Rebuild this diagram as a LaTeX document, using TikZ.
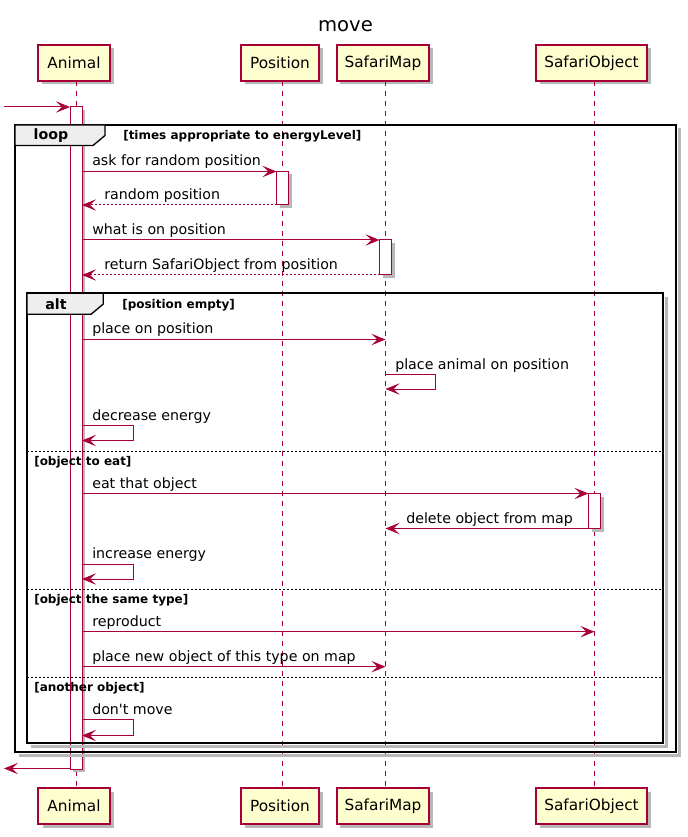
\documentclass[tikz,border=0pt]{standalone}
\usepackage{fontspec}
\setmainfont{DejaVu Sans}
\usetikzlibrary{arrows.meta}
\definecolor{umlred}{HTML}{A80036}
\definecolor{umlyel}{HTML}{FEFECE}
\definecolor{tabgray}{HTML}{EEEEEE}
\begin{document}
\begin{tikzpicture}[x=0.75pt,y=-0.75pt,
  part/.style={draw=umlred, fill=umlyel, line width=1.1pt, minimum height=27pt, inner sep=0pt,
    font=\fontsize{11.5pt}{13pt}\selectfont},
  pshadow/.style={fill=black!28},
  lifeline/.style={draw=umlred, line width=0.75pt, dash pattern=on 3.75pt off 3.75pt},
  actbox/.style={draw=umlred, fill=white, line width=0.75pt},
  msg/.style={draw=umlred, line width=0.75pt, -{Stealth[length=10.5pt,width=8.5pt,inset=4.5pt]}},
  reply/.style={msg, dash pattern=on 1.5pt off 1.5pt},
  frame/.style={draw=black, line width=1.7pt},
  fshadow/.style={draw=black!28, line width=2.2pt},
  tab/.style={draw=black, fill=tabgray, line width=1pt},
  sep/.style={draw=black, line width=0.75pt, dash pattern=on 1.5pt off 1.5pt},
  lbl/.style={anchor=base west, inner sep=0pt, font=\fontsize{10.65pt}{12pt}\selectfont},
  fname/.style={anchor=base, inner sep=0pt, font=\fontsize{10.65pt}{12pt}\selectfont\bfseries},
  fcond/.style={anchor=base west, inner sep=0pt, font=\fontsize{9pt}{10pt}\selectfont\bfseries},
  ttl/.style={anchor=base, inner sep=0pt, font=\fontsize{14.7pt}{17pt}\selectfont}
]
\useasboundingbox (0,0) rectangle (687,837);

% title
\node[ttl] (title) at (345.5,32) {move};

% participant shadows
\fill[pshadow] (41.5,48.5) rectangle (113.5,84.5);
\fill[pshadow] (244.5,48.5) rectangle (322.5,84.5);
\fill[pshadow] (340,48.5) rectangle (432.5,84.5);
\fill[pshadow] (539.5,48.5) rectangle (650.5,84.5);
\fill[pshadow] (42.5,791.5) rectangle (113.5,827.5);
\fill[pshadow] (244.5,791.5) rectangle (322.5,827.5);
\fill[pshadow] (340,791.5) rectangle (432.5,827.5);
\fill[pshadow] (539.5,791.5) rectangle (650.5,827.5);

% participants top
\node[part, minimum width=54pt] (animalT) at (74,63) {Animal};
\node[part, minimum width=58.5pt] (posT) at (280,63) {Position};
\node[part, minimum width=69pt] (mapT) at (383,63) {SafariMap};
\node[part, minimum width=83.25pt] (objT) at (591.5,63) {SafariObject};
% participants bottom
\node[part, minimum width=54pt] (animalB) at (74,806) {Animal};
\node[part, minimum width=58.5pt] (posB) at (280,806) {Position};
\node[part, minimum width=69pt] (mapB) at (383,806) {SafariMap};
\node[part, minimum width=83.25pt] (objB) at (591.5,806) {SafariObject};

% lifelines
\draw[lifeline] (76,81) -- (76,788);
\draw[lifeline] (282.5,81) -- (282.5,788);
\draw[lifeline] (385.5,81) -- (385.5,788);
\draw[lifeline] (594.5,81) -- (594.5,788);

% activation bars
\fill[pshadow] (73,110) rectangle (85,772);
\draw[actbox] (70,107) rectangle (82,769);
\fill[pshadow] (279.5,174.5) rectangle (291.5,208);
\draw[actbox] (276.5,171.5) rectangle (288.5,205);
\fill[pshadow] (382.5,243) rectangle (394.5,278);
\draw[actbox] (379.5,240) rectangle (391.5,275);
\fill[pshadow] (591.5,496.5) rectangle (603.5,531.5);
\draw[actbox] (588.5,493.5) rectangle (600.5,528.5);

% loop frame
\draw[fshadow] (679.5,128.5) -- (679.5,755.8) -- (18.5,755.8);
\draw[frame] (15,125) rectangle (676,752.3);
\draw[tab] (15,125) -- (105,125) -- (105,135.5) -- (93,145.5) -- (15,145.5) -- cycle;
\node[fname] (loopname) at (51,140) {loop};
\node[fcond] (loopcond) at (123,139.5) {[times appropriate to energyLevel]};

% alt frame
\draw[fshadow] (666.8,296.8) -- (666.8,746.8) -- (30.5,746.8);
\draw[frame] (27,293.3) rectangle (663.3,743.3);
\draw[tab] (27,293.3) -- (103.3,293.3) -- (103.3,304) -- (91,314.3) -- (27,314.3) -- cycle;
\node[fname] (altname) at (56,309.5) {alt};
\node[fcond] (altcond) at (122,309) {[position empty]};

% separators
\draw[sep] (27,451) -- (663.3,451);
\node[fcond] (c2) at (34,465) {[object to eat]};
\draw[sep] (27,589.3) -- (663.3,589.3);
\node[fcond] (c3) at (34,603) {[object the same type]};
\draw[sep] (27,677.3) -- (663.3,677.3);
\node[fcond] (c4) at (34,691) {[another object]};

% coordinates
\coordinate (inS) at (4,107);
\coordinate (inE) at (70,107);
\coordinate (m1s) at (82,171.5);  \coordinate (m1e) at (276.5,171.5);
\coordinate (m2s) at (276.5,205); \coordinate (m2e) at (82,205);
\coordinate (m3s) at (82,240);    \coordinate (m3e) at (379.5,240);
\coordinate (m4s) at (379.5,275); \coordinate (m4e) at (82,275);
\coordinate (m5s) at (82,339.5);  \coordinate (m5e) at (385.5,339.5);
\coordinate (m6s) at (385.5,374.5); \coordinate (m6e) at (385.5,389);
\coordinate (m7s) at (82,425.5);  \coordinate (m7e) at (82,440.5);
\coordinate (m8s) at (82,493.5);  \coordinate (m8e) at (588.5,493.5);
\coordinate (m9s) at (588.5,528.5); \coordinate (m9e) at (385.5,528.5);
\coordinate (m10s) at (82,564);   \coordinate (m10e) at (82,579);
\coordinate (m11s) at (82,631.7); \coordinate (m11e) at (594.5,631.7);
\coordinate (m12s) at (82,666.7); \coordinate (m12e) at (385.5,666.7);
\coordinate (m13s) at (82,719.5); \coordinate (m13e) at (82,735.5);
\coordinate (outS) at (70,768.5);
\coordinate (outE) at (4,768.5);

% messages
\draw[msg] (inS) -- (inE);
\draw[msg] (m1s) -- (m1e);
\node[lbl] (t1) at (92,166) {ask for random position};
\draw[reply] (m2s) -- (m2e);
\node[lbl] (t2) at (104,199.5) {random position};
\draw[msg] (m3s) -- (m3e);
\node[lbl] (t3) at (92,234.5) {what is on position};
\draw[reply] (m4s) -- (m4e);
\node[lbl] (t4) at (104,269.5) {return SafariObject from position};
\draw[msg] (m5s) -- (m5e);
\node[lbl] (t5) at (92,334) {place on position};
\draw[msg] (m6s) -- ++(50,0) |- (m6e);
\node[lbl] (t6) at (395,369) {place animal on position};
\draw[msg] (m7s) -- ++(51.5,0) |- (m7e);
\node[lbl] (t7) at (92,420) {decrease energy};
\draw[msg] (m8s) -- (m8e);
\node[lbl] (t8) at (92,488) {eat that object};
\draw[msg] (m9s) -- (m9e);
\node[lbl] (t9) at (406,523) {delete object from map};
\draw[msg] (m10s) -- ++(51.5,0) |- (m10e);
\node[lbl] (t10) at (92,558.5) {increase energy};
\draw[msg] (m11s) -- (m11e);
\node[lbl] (t11) at (92,626) {reproduct};
\draw[msg] (m12s) -- (m12e);
\node[lbl] (t12) at (92,661) {place new object of this type on map};
\draw[msg] (m13s) -- ++(51.5,0) |- (m13e);
\node[lbl] (t13) at (92,714) {don\textquotesingle t move};
\draw[msg] (outS) -- (outE);
\end{tikzpicture}
\end{document}
